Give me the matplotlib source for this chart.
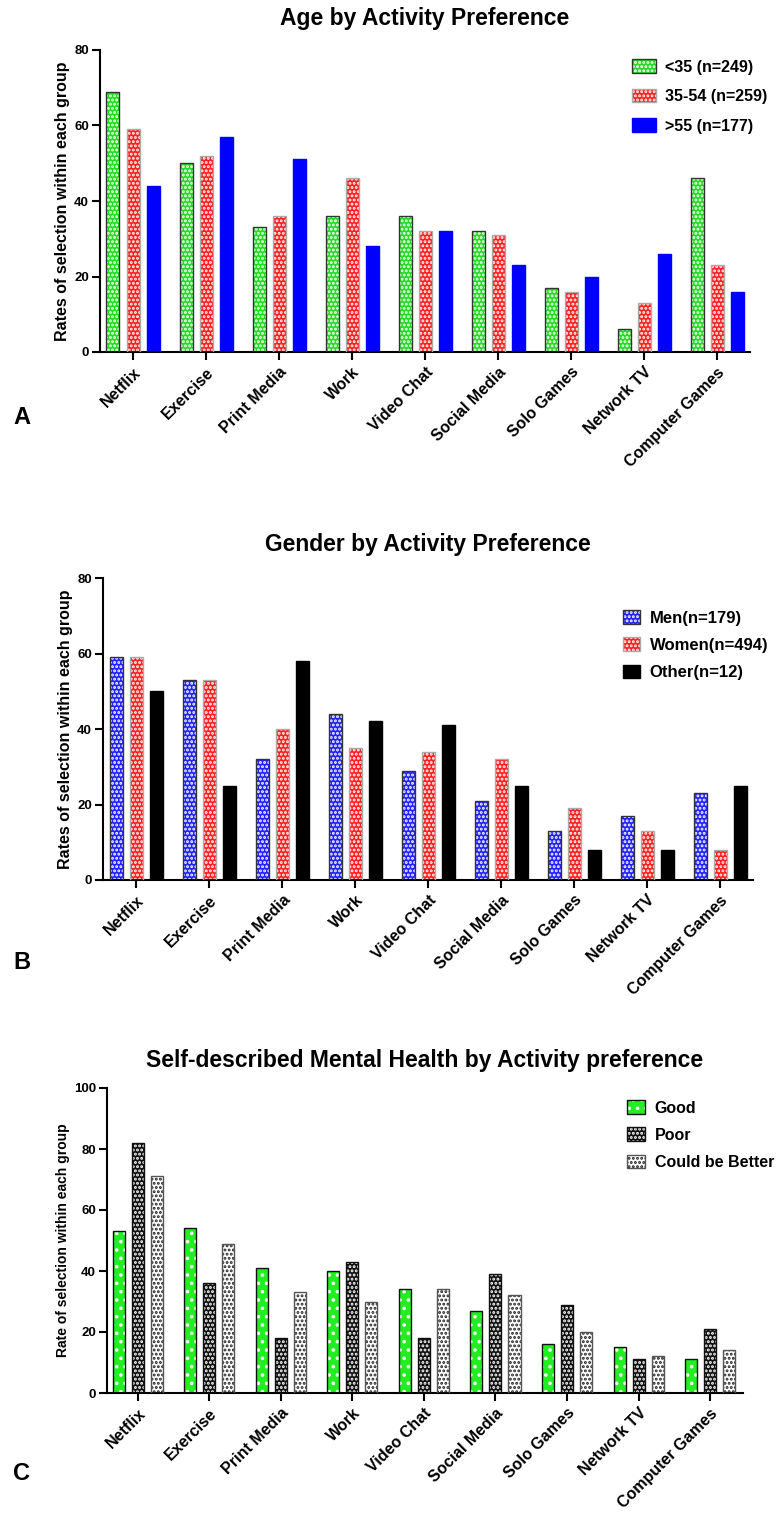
import matplotlib
matplotlib.use('Agg')
import matplotlib.pyplot as plt
import numpy as np

# Du lieu cho 3 bieu do
activities = ['Netflix', 'Exercise', 'Print Media', 'Work', 'Video Chat',
              'Social Media', 'Solo Games', 'Network TV', 'Computer Games']

age_labels = ['<35 (n=249)', '35-54 (n=259)', '>55 (n=177)']
age_under35 = [69, 50, 33, 36, 36, 32, 17, 6, 46]
age_35_54 = [59, 52, 36, 46, 32, 31, 16, 13, 23]
age_over55 = [44, 57, 51, 28, 32, 23, 20, 26, 16]

gender_labels = ['Men(n=179)', 'Women(n=494)', 'Other(n=12)']
gender_men = [59, 53, 32, 44, 29, 21, 13, 17, 23]
gender_women = [59, 53, 40, 35, 34, 32, 19, 13, 8]
gender_other = [50, 25, 58, 42, 41, 25, 8, 8, 25]

mh_labels = ['Good', 'Poor', 'Could be Better']
mh_good = [53, 54, 41, 40, 34, 27, 16, 15, 11]
mh_poor = [82, 36, 18, 43, 18, 39, 29, 11, 21]
mh_better = [71, 49, 33, 30, 34, 32, 20, 12, 14]

plt.rcParams['font.family'] = ['Liberation Sans', 'DejaVu Sans']
plt.rcParams['font.weight'] = 'bold'
plt.rcParams['hatch.linewidth'] = 1.4

W, H = 777, 1515
fig = plt.figure(figsize=(W / 100, H / 100), dpi=100)


def px_axes(left, right, top, bottom):
    return fig.add_axes([left / W, 1 - bottom / H, (right - left) / W, (bottom - top) / H])


def draw_bars(ax, x, vals, face, edge, hatch=None, hatch_col='white'):
    # lop 1: mau nen + hoa van cham, lop 2: vien
    if hatch:
        b1 = ax.bar(x, vals, width=bw, color=face, edgecolor=hatch_col, linewidth=0, hatch=hatch, zorder=2)
    else:
        b1 = ax.bar(x, vals, width=bw, color=face, linewidth=0, zorder=2)
    b2 = ax.bar(x, vals, width=bw, fill=False, edgecolor=edge, linewidth=1.0, zorder=3)
    return (b1, b2)


def style_axes(ax, ymax, step, xlim, ylabel, ylabel_size):
    for s in ['top', 'right']:
        ax.spines[s].set_visible(False)
    for s in ['left', 'bottom']:
        ax.spines[s].set_linewidth(1.5)
    ax.set_xlim(*xlim)
    ax.set_ylim(0, ymax)
    ax.set_yticks(np.arange(0, ymax + 1, step))
    ax.set_xticks(np.arange(len(activities)))
    ax.set_xticklabels(activities, rotation=45, ha='right', rotation_mode='anchor', fontsize=11.5, fontweight='bold')
    ax.tick_params(axis='both', direction='out', length=6, width=1.5)
    ax.tick_params(axis='y', labelsize=9.5, pad=2)
    ax.tick_params(axis='x', pad=3)
    ax.set_ylabel(ylabel, fontsize=ylabel_size, fontweight='bold', labelpad=3)


x = np.arange(len(activities))

# A: Tuoi
bw = 0.178
pitch = 0.274
axA = px_axes(100, 750, 50, 352)
hA = [draw_bars(axA, x - pitch, age_under35, '#22dd22', '#333333', '....'),
      draw_bars(axA, x, age_35_54, '#ff2020', '#aaaaaa', '....'),
      draw_bars(axA, x + pitch, age_over55, '#0000ff', '#0000ff')]
style_axes(axA, 80, 20, (-0.452, 8.45), 'Rates of selection within each group', 11.5)
axA.legend(hA, age_labels, loc='upper left', bbox_to_anchor=(618 / W, 1 - 45 / H),
           bbox_transform=fig.transFigure, frameon=False, fontsize=11.5,
           handlelength=1.45, handleheight=0.9, handletextpad=0.6, labelspacing=0.9)
fig.text(425 / W, 1 - 18 / H, 'Age by Activity Preference', ha='center', va='center', fontsize=16.5, fontweight='bold')
fig.text(22 / W, 1 - 418 / H, 'A', ha='center', va='center', fontsize=17, fontweight='bold')

# B: Gioi tinh
axB = px_axes(103, 753, 578, 880)
hB = [draw_bars(axB, x - pitch, gender_men, '#2222ff', '#333333', '....'),
      draw_bars(axB, x, gender_women, '#ff2020', '#aaaaaa', '....'),
      draw_bars(axB, x + pitch, gender_other, '#000000', '#000000')]
style_axes(axB, 80, 20, (-0.459, 8.45), 'Rates of selection within each group', 11.5)
axB.legend(hB, gender_labels, loc='upper left', bbox_to_anchor=(608 / W, 1 - 595 / H),
           bbox_transform=fig.transFigure, frameon=False, fontsize=12,
           handlelength=1.0, handleheight=0.9, handletextpad=0.6, labelspacing=0.7)
fig.text(428 / W, 1 - 545 / H, 'Gender by Activity Preference', ha='center', va='center', fontsize=16.5, fontweight='bold')
fig.text(22 / W, 1 - 962 / H, 'B', ha='center', va='center', fontsize=17, fontweight='bold')

# C: Suc khoe tinh than
bw = 0.168
pitch = 0.266
axC = px_axes(107, 743, 1088, 1393)
hC = [draw_bars(axC, x - pitch, mh_good, '#22ee22', '#111111', '..'),
      draw_bars(axC, x, mh_poor, '#111111', '#111111', '....'),
      draw_bars(axC, x + pitch, mh_better, '#ffffff', '#555555', '....', hatch_col='#222222')]
style_axes(axC, 100, 20, (-0.43, 8.46), 'Rate of selection within each group', 10)
axC.legend(hC, mh_labels, loc='upper left', bbox_to_anchor=(613 / W, 1 - 1086 / H),
           bbox_transform=fig.transFigure, frameon=False, fontsize=11.5,
           handlelength=1.1, handleheight=0.9, handletextpad=0.6, labelspacing=0.75)
fig.text(425 / W, 1 - 1060 / H, 'Self-described Mental Health by Activity preference', ha='center', va='center', fontsize=16.5, fontweight='bold')
fig.text(22 / W, 1 - 1473 / H, 'C', ha='center', va='center', fontsize=17, fontweight='bold')

fig.savefig('out.png', dpi=100)
